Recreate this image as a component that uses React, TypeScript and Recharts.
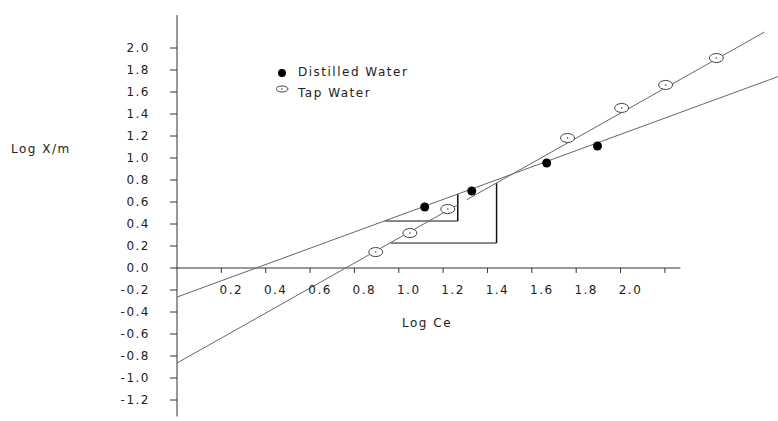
import {
  ComposedChart,
  Scatter,
  XAxis,
  YAxis,
  ReferenceLine,
  Legend,
} from "recharts";

// Freundlich plots (log Ce vs log X/m)
const distilledPoints = [
  { x: 1.117, y: 0.555 },
  { x: 1.329, y: 0.7 },
  { x: 1.667, y: 0.955 },
  { x: 1.896, y: 1.109 },
];

const tapPoints = [
  { x: 0.896, y: 0.145 },
  { x: 1.05, y: 0.318 },
  { x: 1.221, y: 0.536 },
  { x: 1.761, y: 1.182 },
  { x: 2.005, y: 1.455 },
  { x: 2.203, y: 1.664 },
  { x: 2.432, y: 1.909 },
];

// fitted lines, endpoints as drawn
const distilledFit = [
  { x: 0, y: -0.264 },
  { x: 2.71, y: 1.74 },
];
const tapFitLow = [
  { x: 0, y: -0.864 },
  { x: 1.27, y: 0.579 },
];
const tapFitHigh = [
  { x: 1.306, y: 0.62 },
  { x: 2.649, y: 2.145 },
];

// slope construction triangles
const slopeTriangles = [
  { x1: 0.937, x2: 1.266, yBase: 0.427, yTop: 0.673 },
  { x1: 0.964, x2: 1.441, yBase: 0.227, yTop: 0.773 },
];

const yTicks = [-1.2, -1.0, -0.8, -0.6, -0.4, -0.2, 0, 0.2, 0.4, 0.6, 0.8, 1.0, 1.2, 1.4, 1.6, 1.8, 2.0];
const xTicks = [0.2, 0.4, 0.6, 0.8, 1.0, 1.2, 1.4, 1.6, 1.8, 2.0, 2.2];
const xTickLabels = ["0.2", "0.4", "0.6", "0.8", "1.0", "1.2", "1.4", "1.6", "1.8", "2.0", ""];
const xAxisEnd = 2.27;

const FONT = "'DejaVu Sans', Verdana, sans-serif";
const INK = "#222";
const LINE = "#666";

function FilledDot(props: any) {
  const { cx, cy } = props;
  return <circle cx={cx} cy={cy} r={4.5} fill="#000" />;
}

function OpenDot(props: any) {
  const { cx, cy } = props;
  return (
    <g>
      <ellipse cx={cx} cy={cy} rx={7} ry={4.5} fill="#fff" stroke="#444" strokeWidth={1} />
      <circle cx={cx} cy={cy} r={0.8} fill="#444" />
    </g>
  );
}

const NoDot = () => <g />;

function LegendBox() {
  const text = { fontFamily: FONT, fontSize: 12, letterSpacing: 1.5 };
  return (
    <svg width={140} height={40} style={{ display: "block" }}>
      <circle cx={6} cy={9} r={4} fill="#000" />
      <text x={22} y={8} style={text} fill={INK} dominantBaseline="middle">
        Distilled Water
      </text>
      <ellipse cx={6} cy={25} rx={6} ry={3} fill="#fff" stroke="#444" />
      <circle cx={6} cy={25} r={0.8} fill="#444" />
      <text x={22} y={29} style={text} fill={INK} dominantBaseline="middle">
        Tap Water
      </text>
    </svg>
  );
}

export default function App() {
  const labelStyle = {
    position: "absolute" as const,
    fontFamily: FONT,
    fontSize: 12,
    letterSpacing: 1.5,
    lineHeight: "14px",
    color: INK,
    whiteSpace: "nowrap" as const,
  };
  return (
    <div style={{ position: "absolute", left: 0, top: 0, width: 778, height: 421, background: "#fff" }}>
      <ComposedChart width={778} height={421} margin={{ top: 15, right: 0, bottom: 4.5, left: 0 }}>
        <XAxis type="number" dataKey="x" domain={[0, 2.71]} hide />
        <YAxis
          type="number"
          dataKey="y"
          domain={[-1.35, 2.3]}
          ticks={yTicks}
          width={177}
          tickSize={7}
          tickMargin={20}
          tickFormatter={(v: number) => v.toFixed(1)}
          stroke="#333"
          tick={{ fontFamily: FONT, fontSize: 12, fill: INK, letterSpacing: 1.5 }}
        />
        <ReferenceLine
          segment={[
            { x: 0, y: 0 },
            { x: xAxisEnd, y: 0 },
          ]}
          stroke="#333"
        />
        {xTicks.map((v, i) => (
          <ReferenceLine
            key={`xt-${v}`}
            segment={[
              { x: v, y: 0 },
              { x: v, y: -0.045 },
            ]}
            stroke="#333"
            label={{
              value: xTickLabels[i],
              position: "bottom",
              offset: 13,
              dx: 10,
              fill: INK,
              fontSize: 12,
              fontFamily: FONT,
              letterSpacing: 1.5,
            }}
          />
        ))}
        {slopeTriangles.map((t, i) => [
          <ReferenceLine
            key={`th-${i}`}
            segment={[
              { x: t.x1, y: t.yBase },
              { x: t.x2, y: t.yBase },
            ]}
            stroke="#111"
          />,
          <ReferenceLine
            key={`tv-${i}`}
            segment={[
              { x: t.x2, y: t.yBase },
              { x: t.x2, y: t.yTop },
            ]}
            stroke="#111"
            strokeWidth={1.5}
          />,
        ])}
        <Scatter data={distilledFit} line={{ stroke: LINE, strokeWidth: 1 }} shape={NoDot} isAnimationActive={false} legendType="none" />
        <Scatter data={tapFitLow} line={{ stroke: LINE, strokeWidth: 1 }} shape={NoDot} isAnimationActive={false} legendType="none" />
        <Scatter data={tapFitHigh} line={{ stroke: LINE, strokeWidth: 1 }} shape={NoDot} isAnimationActive={false} legendType="none" />
        <Scatter name="Distilled Water" data={distilledPoints} shape={FilledDot} isAnimationActive={false} />
        <Scatter name="Tap Water" data={tapPoints} shape={OpenDot} isAnimationActive={false} />
        <Legend
          layout="vertical"
          align="center"
          verticalAlign="middle"
          content={() => <LegendBox />}
          wrapperStyle={{ left: 276, top: 64, width: 140 }}
        />
      </ComposedChart>
      <div style={{ ...labelStyle, left: 11, top: 142 }}>Log X/m</div>
      <div style={{ ...labelStyle, left: 402, top: 316 }}>Log Ce</div>
    </div>
  );
}
